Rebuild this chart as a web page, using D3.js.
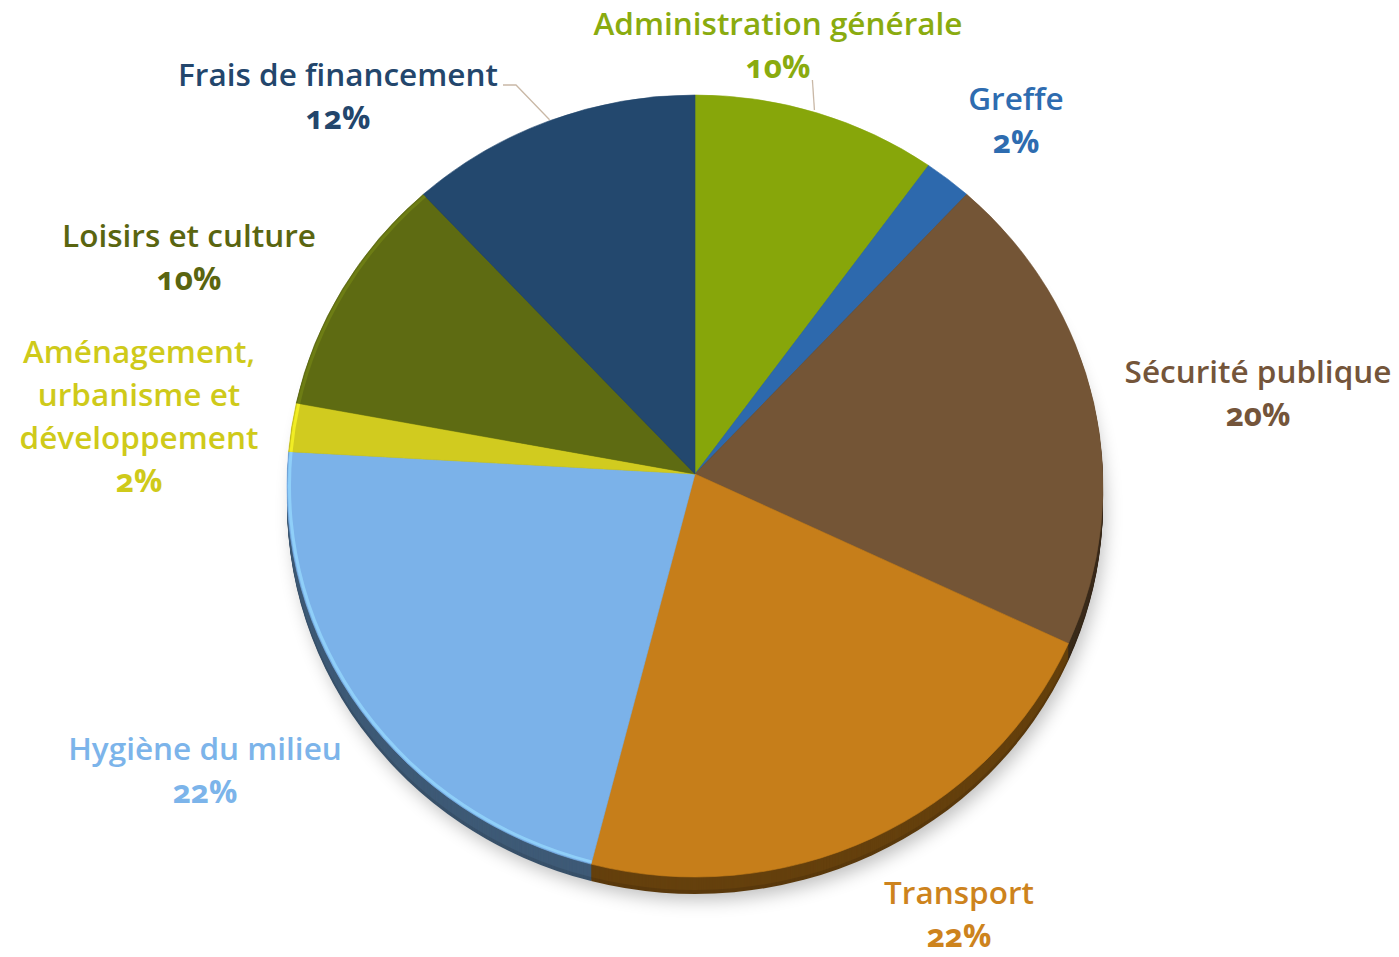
<!DOCTYPE html>
<html>
<head>
<meta charset="utf-8">
<script src="https://cdn.jsdelivr.net/npm/d3@7"></script>
<style>
  body { margin: 0; background: #fff; }
  svg { display: block; }
  text { font-family: "Open Sans", sans-serif; font-weight: 600; font-feature-settings: "onum"; }
</style>
</head>
<body>
<svg id="chart" width="1399" height="957"></svg>
<script>
'use strict';

// data, clockwise from 12 o'clock
var categories = ['Administration générale', 'Greffe', 'Sécurité publique', 'Transport',
                  'Hygiène du milieu', 'Aménagement, urbanisme et développement',
                  'Loisirs et culture', 'Frais de financement'];
var values = [9.7, 1.9, 20.0, 22.5, 22.3, 2.0, 10.0, 11.6];
var pctLabels = ['10%', '2%', '20%', '22%', '22%', '2%', '10%', '12%'];
var colors = ['#87a60a', '#2d69ad', '#745536', '#c67e1a', '#7bb2e9', '#d1cb1f', '#5e6b12', '#23486e'];
var labelColors = ['#8aab0f', '#2e6cb0', '#74553a', '#cd831d', '#7cb4ea', '#cfca1a', '#5a6510', '#23466c'];

// label layout (lines of each label, centre x and first baseline)
var labelLines = [
	['Administration générale'], ['Greffe'], ['Sécurité publique'], ['Transport'],
	['Hygiène du milieu'], ['Aménagement,', 'urbanisme et', 'développement'],
	['Loisirs et culture'], ['Frais de financement']
];
var labelPos = [[778, 35], [1016, 110], [1258, 383], [959, 904],
                [205, 760], [139, 363], [189, 247], [338, 86]];

// ellipse of the top face, and the apex where the slices meet (perspective)
var cx = 695, cy = 486, rx = 408, ry = 391, apexY = 474, depth = 17;

var svg = d3.select('#chart');
var defs = svg.append('defs');

var blur = defs.append('filter').attr('id', 'shadow')
	.attr('x', '-20%').attr('y', '-20%').attr('width', '140%').attr('height', '140%');
blur.append('feGaussianBlur').attr('stdDeviation', 9);

var pie = d3.pie().sort(null).value(d => d)(values);

var edge = function(a, dy) {
	return [cx + rx * Math.sin(a), cy + dy - ry * Math.cos(a)];
};
var slicePath = function(d, dy) {
	var p0 = edge(d.startAngle, dy), p1 = edge(d.endAngle, dy);
	var large = (d.endAngle - d.startAngle) > Math.PI ? 1 : 0;
	var p = d3.path();
	p.moveTo(cx, apexY + dy);
	p.lineTo(p0[0], p0[1]);
	return p.toString() + ` A${rx},${ry} 0 ${large} 1 ${p1[0]},${p1[1]} Z`;
};

// soft shadow
svg.append('ellipse')
	.attr('cx', cx + 4).attr('cy', cy + depth + 10)
	.attr('rx', rx - 2).attr('ry', ry - 4)
	.attr('fill', '#000').attr('opacity', 0.25)
	.attr('filter', 'url(#shadow)');

// side of the pie (darker, stacked copies shifted down)
for (var k = depth; k > 0; k -= 1) {
	svg.append('g').selectAll('path').data(pie).join('path')
		.attr('d', d => slicePath(d, k))
		.attr('fill', (d, i) => d3.color(colors[i]).darker(k > depth - 4 ? 2.2 : 1.9));
}

// top surface
var face = svg.append('g');
face.selectAll('path.slice').data(pie).join('path')
	.attr('class', 'slice')
	.attr('d', d => slicePath(d, 0))
	.attr('fill', (d, i) => colors[i])
	.attr('stroke', (d, i) => colors[i])
	.attr('stroke-width', 0.6);

// light rim on the left side
var rimArc = d3.arc().innerRadius(rx - 4).outerRadius(rx - 1);
face.append('g')
	.attr('transform', `translate(${cx},${cy}) scale(1,${ry / rx})`)
	.selectAll('path').data(pie.filter(d => d.endAngle > Math.PI * 1.35 && d.startAngle < Math.PI * 1.7))
	.join('path')
	.attr('d', rimArc)
	.attr('fill', d => d3.color(colors[d.index]).brighter(0.6))
	.attr('opacity', 0.7);

// leader lines
var leader = d3.line();
var mid = d => (d.startAngle + d.endAngle) / 2;
var p0 = edge(mid(pie[0]), 0);
svg.append('path')
	.attr('d', leader([[p0[0] - 3, p0[1] - 3], [p0[0] - 5, 80]]))
	.attr('stroke', '#c9b8a6').attr('stroke-width', 1.3).attr('fill', 'none');
var p7 = edge(mid(pie[7]), 0);
svg.append('path')
	.attr('d', leader([[p7[0], p7[1] - 1], [516, 85], [503, 85]]))
	.attr('stroke', '#c9b8a6').attr('stroke-width', 1.3).attr('fill', 'none');

// labels
var lh = 43;
categories.forEach(function(c, i) {
	var t = svg.append('text')
		.attr('x', labelPos[i][0]).attr('y', labelPos[i][1])
		.attr('text-anchor', 'middle')
		.attr('fill', labelColors[i])
		.style('font-size', '31.5px');
	var lines = labelLines[i].concat([pctLabels[i]]);
	lines.forEach(function(l, j) {
		t.append('tspan')
			.attr('x', labelPos[i][0])
			.attr('dy', j == 0 ? 0 : lh)
			.style('font-weight', j == lines.length - 1 ? 700 : null)
			.text(l);
	});
});
</script>
</body>
</html>
